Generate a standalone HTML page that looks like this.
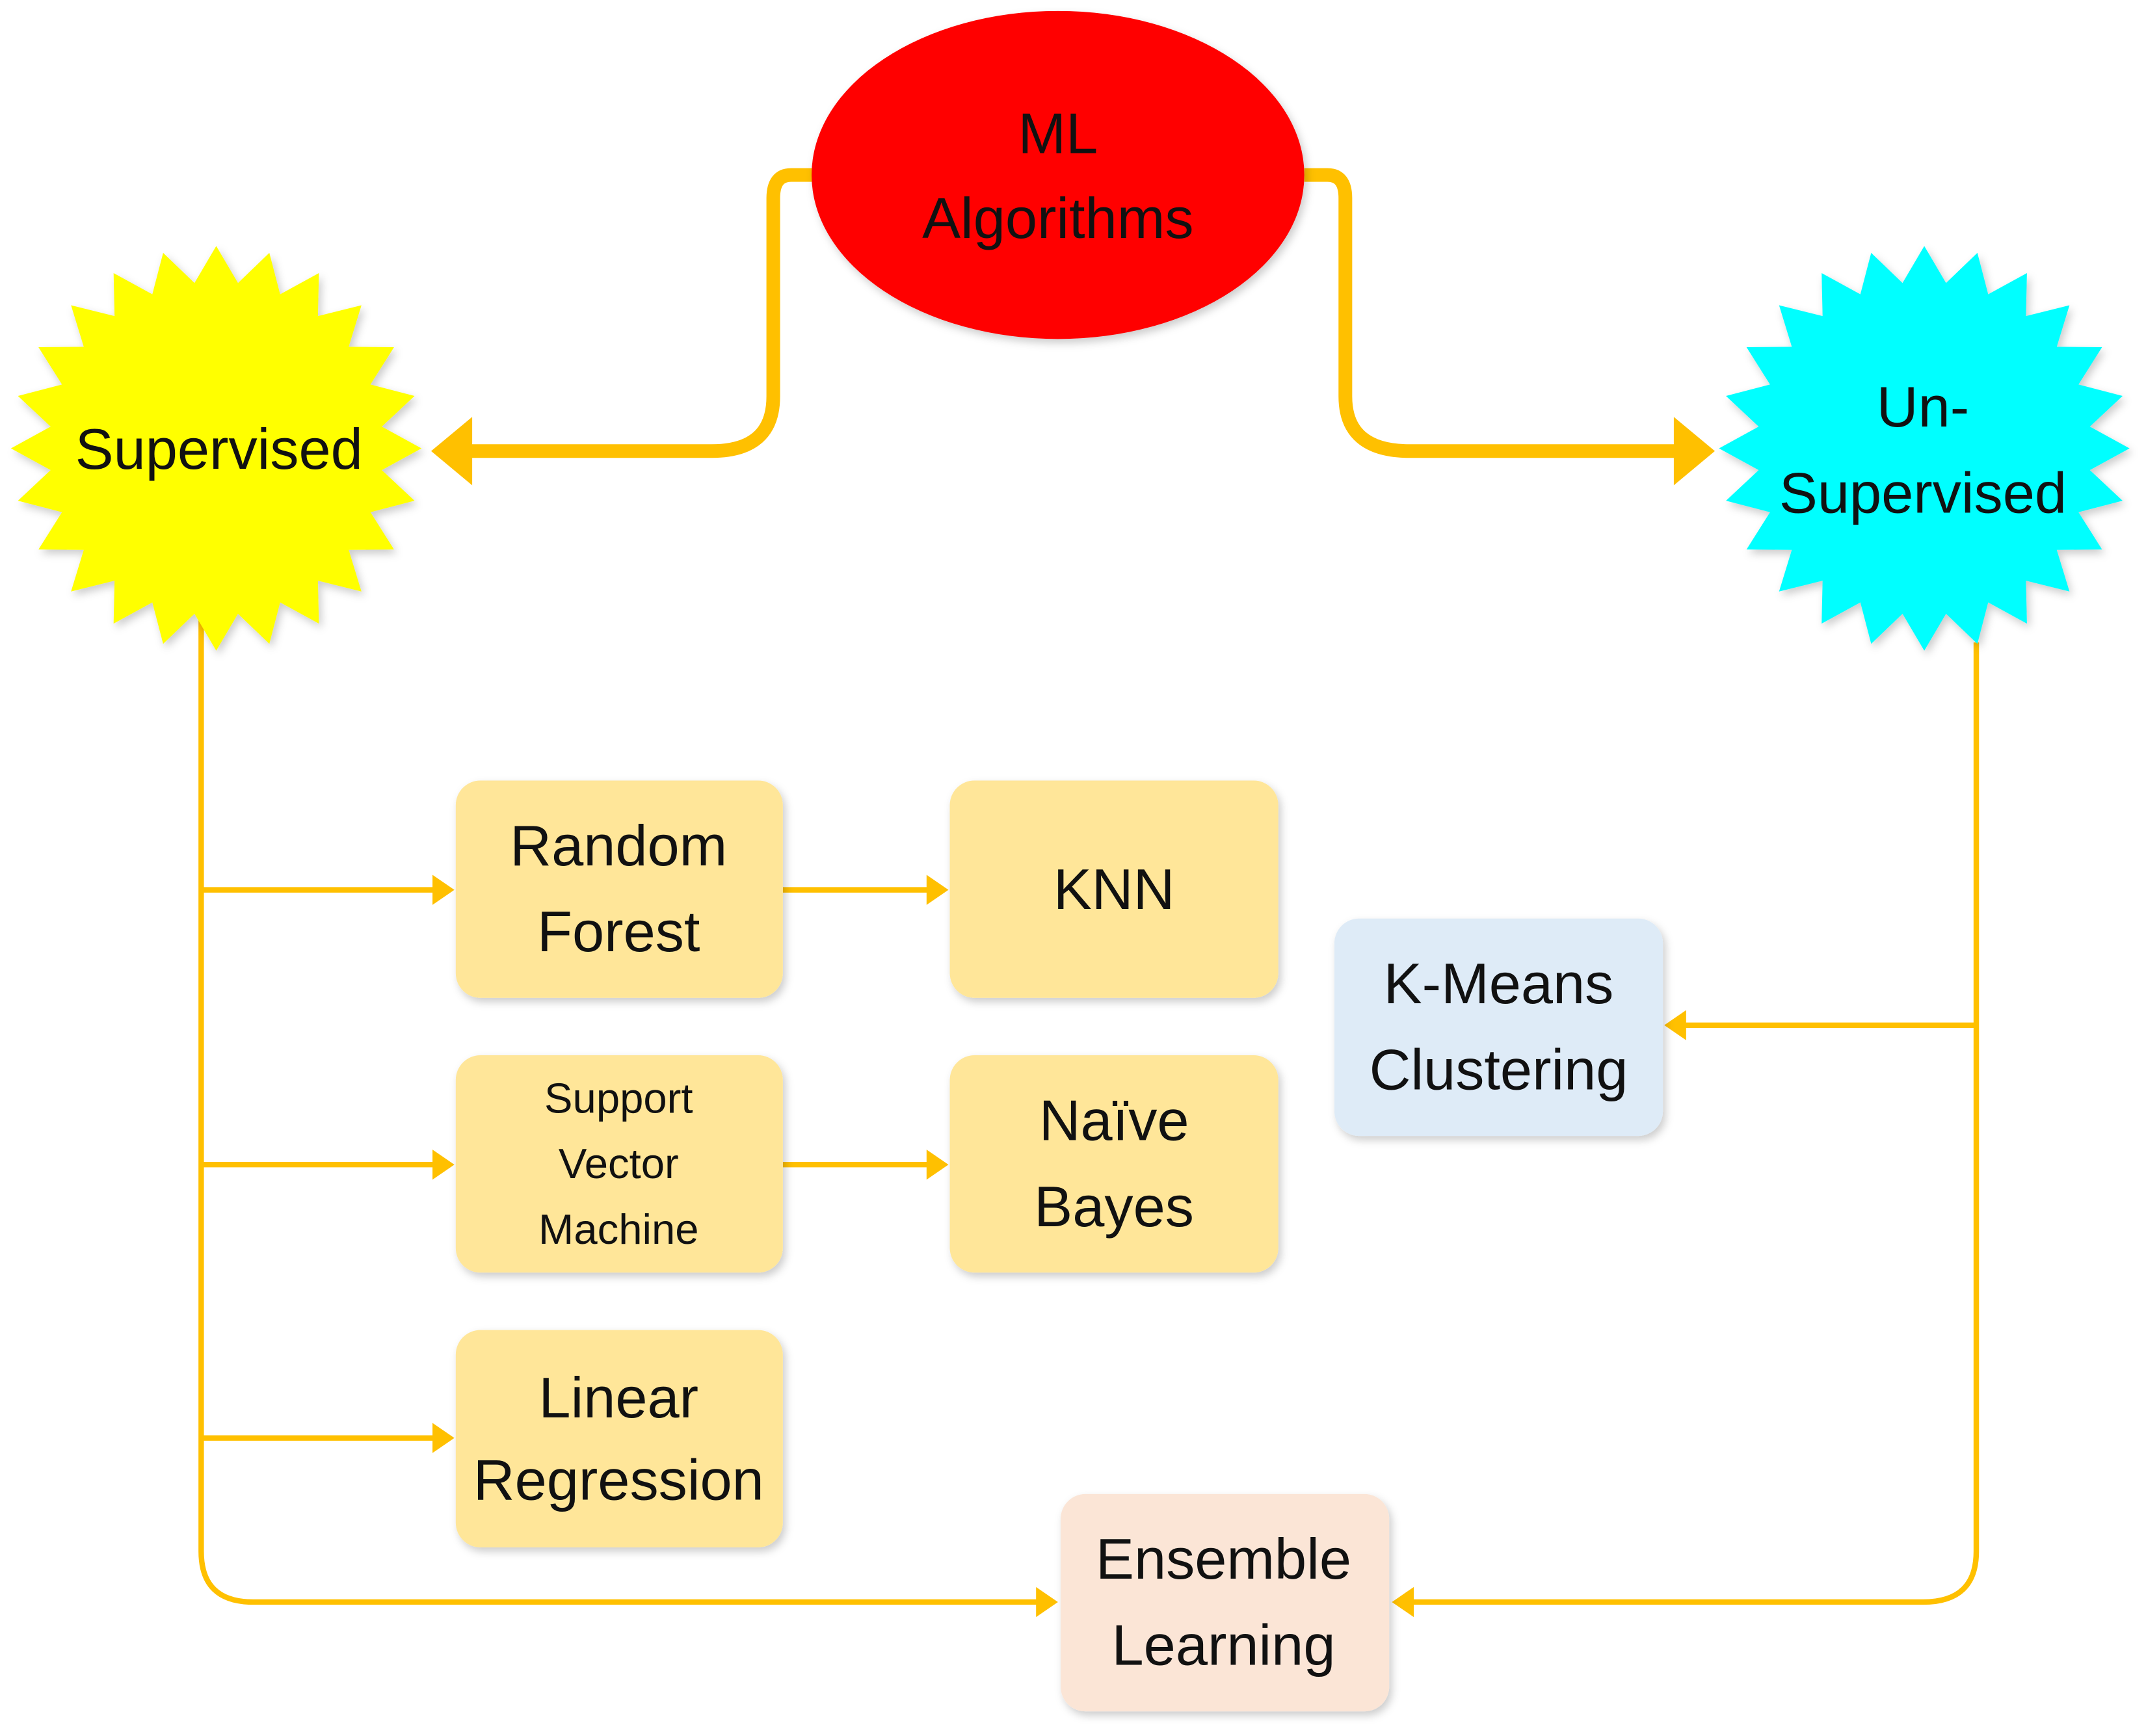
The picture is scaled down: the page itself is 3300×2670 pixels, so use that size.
<!DOCTYPE html>
<html><head><meta charset="utf-8"><style>
html,body{margin:0;padding:0;background:#fff;}
svg{display:block;}
text{font-family:"Liberation Sans Narrow","Liberation Sans",sans-serif;fill:#111;text-anchor:middle;}
</style></head><body>
<svg id="s" width="3300" height="2670" viewBox="0 0 1568 1270" preserveAspectRatio="none" xmlns="http://www.w3.org/2000/svg">
<defs>
<filter id="sh" x="-10%" y="-10%" width="130%" height="130%"><feDropShadow dx="2" dy="3" stdDeviation="3" flood-color="#000" flood-opacity="0.2"/></filter>
</defs>
<!-- thick connectors -->
<path d="M594 128 H578 Q565 128 565 145 V290 Q565 330 520 330 H340" fill="none" stroke="#ffc000" stroke-width="10"/>
<polygon points="315,330 345,305 345,355" fill="#ffc000"/>
<path d="M953 128 H970 Q983 128 983 145 V290 Q983 330 1030 330 H1228" fill="none" stroke="#ffc000" stroke-width="10"/>
<polygon points="1253,330 1223,305 1223,355" fill="#ffc000"/>
<!-- thin connectors -->
<g fill="none" stroke="#ffc000" stroke-width="4">
<path d="M147 450 V1135 Q147 1172 185 1172 H760"/>
<path d="M147 651 H320"/><path d="M147 852 H320"/><path d="M147 1052 H320"/>
<path d="M572 651 H682"/><path d="M572 852 H682"/>
<path d="M1444 470 V1135 Q1444 1172 1405 1172 H1030"/>
<path d="M1444 750 H1230"/>
</g>
<g fill="#ffc000">
<polygon points="332,651 316,640 316,662"/><polygon points="332,852 316,841 316,863"/><polygon points="332,1052 316,1041 316,1063"/>
<polygon points="693,651 677,640 677,662"/><polygon points="693,852 677,841 677,863"/>
<polygon points="773,1172 757,1161 757,1183"/>
<polygon points="1017,1172 1033,1161 1033,1183"/>
<polygon points="1216,750 1232,739 1232,761"/>
</g>
<!-- ellipse -->
<ellipse cx="773" cy="128" rx="180" ry="120" fill="#ff0000" filter="url(#sh)"/>
<text x="773" y="112" font-size="42">ML</text>
<text x="773" y="174" font-size="42">Algorithms</text>
<!-- stars -->
<polygon id="st1" fill="#ffff00" filter="url(#sh)"/>
<polygon id="st2" fill="#00ffff" filter="url(#sh)"/>
<text x="160" y="343" font-size="42">Supervised</text>
<text x="1405" y="312" font-size="42">Un-</text>
<text x="1405" y="375" font-size="42">Supervised</text>
<!-- boxes -->
<g filter="url(#sh)">
<rect x="333" y="571" width="239" height="159" rx="18" fill="#ffe699"/>
<rect x="694" y="571" width="240" height="159" rx="18" fill="#ffe699"/>
<rect x="333" y="772" width="239" height="159" rx="18" fill="#ffe699"/>
<rect x="694" y="772" width="240" height="159" rx="18" fill="#ffe699"/>
<rect x="333" y="973" width="239" height="159" rx="18" fill="#ffe699"/>
<rect x="975" y="672" width="240" height="159" rx="18" fill="#deebf7"/>
<rect x="775" y="1093" width="240" height="159" rx="18" fill="#fbe5d6"/>
</g>
<text x="452" y="633" font-size="42">Random</text>
<text x="452" y="696" font-size="42">Forest</text>
<text x="814" y="665" font-size="42">KNN</text>
<text x="452" y="814" font-size="31">Support</text>
<text x="452" y="862" font-size="31">Vector</text>
<text x="452" y="910" font-size="31">Machine</text>
<text x="814" y="834" font-size="42">Naïve</text>
<text x="814" y="897" font-size="42">Bayes</text>
<text x="452" y="1037" font-size="42">Linear</text>
<text x="452" y="1097" font-size="42">Regression</text>
<text x="1095" y="734" font-size="42">K-Means</text>
<text x="1095" y="797" font-size="42">Clustering</text>
<text x="894" y="1155" font-size="42">Ensemble</text>
<text x="894" y="1218" font-size="42">Learning</text>
</svg>
<script>
function star(id,cx,cy,rx,ry,irx,iry,n){
 var p=[];for(var i=0;i<2*n;i++){var a=Math.PI*i/n - Math.PI/2;var o=i%2==0;
 p.push((cx+(o?rx:irx)*Math.cos(a)).toFixed(1)+","+(cy+(o?ry:iry)*Math.sin(a)).toFixed(1));}
 document.getElementById(id).setAttribute("points",p.join(" "));}
star("st1",158,328,150,148,122,122,24);
star("st2",1406,328,150,148,122,122,24);
</script>
</body></html>
